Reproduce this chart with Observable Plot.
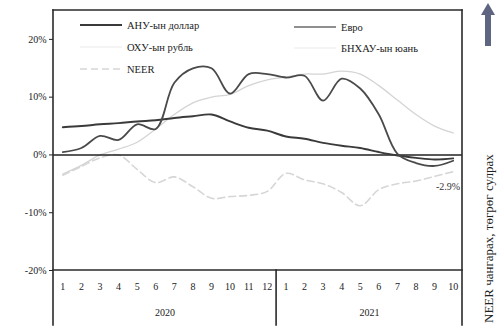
<!DOCTYPE html>
<html>
<head>
<meta charset="utf-8">
<script src="https://cdn.jsdelivr.net/npm/d3@7"></script>
<script src="https://cdn.jsdelivr.net/npm/@observablehq/plot@0.6"></script>
<style>
  html, body { margin: 0; padding: 0; background: white; }
  #chart { width: 503px; height: 330px; }
</style>
</head>
<body>
<div id="chart"></div>
<script>
const months = ["1","2","3","4","5","6","7","8","9","10","11","12","1","2","3","4","5","6","7","8","9","10"];
const years = ["2020", "2021"];
const yTicks = [-20, -10, 0, 10, 20];
const usd  = [4.8, 5.0, 5.3, 5.5, 5.8, 6.0, 6.4, 6.7, 7.0, 5.8, 4.7, 4.2, 3.2, 2.8, 2.1, 1.6, 1.2, 0.5, -0.1, -0.5, -0.8, -0.6];
const eur  = [0.5, 1.2, 3.3, 2.6, 5.3, 4.5, 12.5, 15.0, 15.0, 10.6, 14.0, 14.0, 13.4, 13.7, 9.4, 13.2, 11.5, 7.0, 0.2, -1.4, -1.9, -1.0];
const cny  = [-3.3, -1.8, 0.0, 1.0, 2.2, 4.5, 7.0, 9.0, 10.0, 10.5, 12.0, 13.0, 13.5, 14.0, 14.0, 14.5, 14.0, 12.0, 9.5, 7.0, 5.0, 3.8];
const neer = [-3.5, -2.0, -0.5, 0.0, -2.5, -4.8, -3.8, -5.5, -7.5, -7.2, -7.0, -6.3, -3.2, -4.3, -5.0, -6.5, -8.8, -6.0, -5.0, -4.5, -3.7, -2.9];
const neerEndLabel = "-2.9%";
const legendNames = ["АНУ-ын доллар", "Евро", "ОХУ-ын рубль", "БНХАУ-ын юань", "NEER"];
const sideLabel = "NEER чангарах, төгрөг сулрах";

const idx = d3.range(months.length);
const serif = "'Liberation Serif', 'DejaVu Serif', serif";
const xMin = -0.5, xMax = months.length - 0.5, yMin = -20, yMax = 25;
const W = 503, H = 330, mL = 53, mR = 41, mT = 10, mB = 60;

const chart = Plot.plot({
  width: W, height: H,
  marginLeft: mL, marginRight: mR, marginTop: mT, marginBottom: mB,
  style: { fontFamily: serif, fontSize: "10px", color: "#222", background: "white" },
  x: { type: "linear", domain: [xMin, xMax] },
  y: { domain: [yMin, yMax] },
  marks: [
    Plot.axisY({ ticks: yTicks, tickFormat: d => d + "%", tickSize: 4, tickPadding: 3, label: null, fontSize: 10 }),
    Plot.axisX({ ticks: idx, tickFormat: i => months[i], tickSize: 0, tickPadding: 12, label: null, fontSize: 10 }),
    Plot.axisX({ ticks: [5.5, 16.5], tickFormat: v => v < 11.5 ? years[0] : years[1], tickSize: 0, tickPadding: 38, label: null, fontSize: 10 }),
    Plot.lineY(neer, { x: (d, i) => i, y: d => d, stroke: "#d6d6d6", strokeWidth: 1.6, strokeDasharray: "7,4", curve: "catmull-rom" }),
    Plot.lineY(cny, { x: (d, i) => i, y: d => d, stroke: "#d4d4d4", strokeWidth: 1.3, curve: "catmull-rom" }),
    Plot.ruleY([0], { stroke: "#222", strokeWidth: 1.5 }),
    Plot.lineY(usd, { x: (d, i) => i, y: d => d, stroke: "#3a3a3a", strokeWidth: 1.9, curve: "catmull-rom" }),
    Plot.lineY(eur, { x: (d, i) => i, y: d => d, stroke: "#4a4a4a", strokeWidth: 1.8, curve: "catmull-rom" }),
    Plot.text([months.length - 1], { x: i => i, y: i => neer[i], text: () => neerEndLabel, dy: 15, dx: 7, textAnchor: "end", fontSize: 10, fill: "#333" })
  ]
});
document.getElementById("chart").appendChild(chart);

const svg = d3.select(chart);
// frame and year separators (layout lines, from the margins)
const L = mL, R = W - mR, T = mT, B = H - mB;
const sep = L + (11.5 - xMin) / (xMax - xMin) * (R - L);
const segs = [
  [L, T, R, T], [L, B, R, B], [L, T, L, H - 5], [R, T, R, H - 5], [sep, B, sep, H - 5]
];
const fr = svg.append("g").attr("stroke", "#2a2a2a").attr("stroke-width", 1.6).attr("stroke-linecap", "square");
for (const [x1, y1, x2, y2] of segs) {
  fr.append("line").attr("x1", x1).attr("y1", y1).attr("x2", x2).attr("y2", y2);
}

// legend
const leg = svg.append("g").attr("font-family", serif).attr("font-size", 10.5).attr("fill", "#222").attr("text-anchor", "start");
const items = [
  { x: 80, y: 25, name: legendNames[0], stroke: "#3a3a3a", w: 1.9, dash: null },
  { x: 294, y: 27, name: legendNames[1], stroke: "#6a6a6a", w: 1.3, dash: null },
  { x: 80, y: 47, name: legendNames[2], stroke: "#f0f0f0", w: 1.3, dash: null },
  { x: 294, y: 48, name: legendNames[3], stroke: "#f0f0f0", w: 1.3, dash: null },
  { x: 80, y: 69, name: legendNames[4], stroke: "#d6d6d6", w: 1.6, dash: "7,4" }
];
for (const it of items) {
  leg.append("line").attr("x1", it.x).attr("x2", it.x + 42).attr("y1", it.y).attr("y2", it.y)
    .attr("stroke", it.stroke).attr("stroke-width", it.w).attr("stroke-dasharray", it.dash);
  leg.append("text").attr("x", it.x + 47).attr("y", it.y).attr("dy", "0.35em").attr("text-anchor", "start").text(it.name);
}
// side annotation
const side = svg.append("g");
side.append("rect").attr("x", 485).attr("y", 14).attr("width", 6).attr("height", 32).attr("fill", "#5e6580");
side.append("path").attr("d", "M481,15 L488,3 L495,15 Z").attr("fill", "#5e6580");
side.append("text").attr("transform", "translate(493,323) rotate(-90)").attr("text-anchor", "start")
  .attr("font-family", serif).attr("font-size", 13).attr("fill", "#222").text(sideLabel);
</script>
</body>
</html>
